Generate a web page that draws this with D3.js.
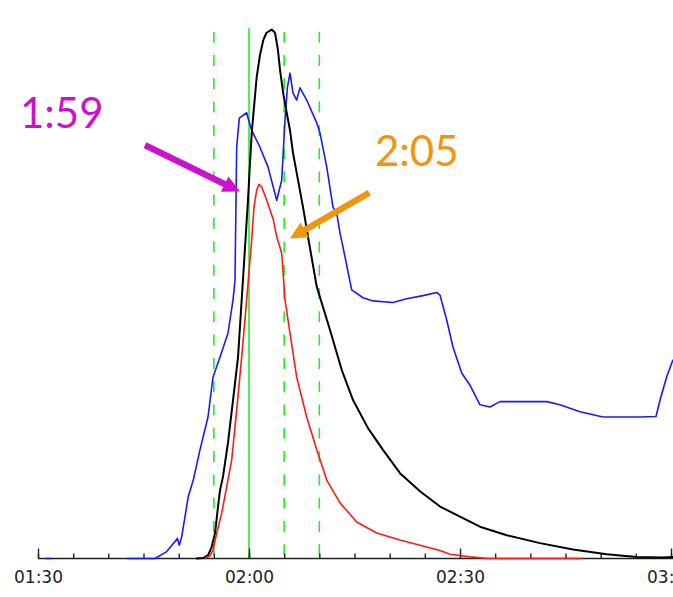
<!DOCTYPE html>
<html>
<head>
<meta charset="utf-8">
<script src="https://cdn.jsdelivr.net/npm/d3@7"></script>
<style>
  html, body { margin: 0; padding: 0; background: #ffffff; }
  svg { display: block; }
</style>
</head>
<body>
<svg id="chart" width="673" height="597"></svg>
<script>
// Flare light curves. Time is minutes after 00:00 UT, flux is in relative units.
const blackTime = [112.46, 113.50, 114.21, 114.70, 115.17, 115.59, 115.88, 116.30, 117.01, 117.73,
  118.44, 118.96, 119.50, 119.85, 120.14, 120.40, 121.09, 121.56, 122.03, 122.49, 123.23, 123.70,
  124.12, 124.41, 124.90, 125.36, 125.83, 126.26, 126.97, 127.68, 128.39, 129.63, 131.52, 133.18,
  134.79, 136.92, 139.05, 141.47, 144.31, 147.16, 150.00, 152.84, 156.64, 161.37, 166.07, 170.86,
  175.12, 178.86, 180.30];
const blackFlux = [0.0, 0.1, 0.7, 2.2, 4.8, 9.7, 12.9, 15.4, 21.8, 29.9,
  38.0, 48.8, 60.1, 67.5, 74.6, 80.5, 90.8, 95.0, 97.8, 99.2, 99.8, 99.2,
  95.9, 92.2, 87.5, 84.1, 80.8, 76.5, 71.4, 66.3, 60.7, 51.3, 43.1, 35.6,
  29.9, 24.6, 20.5, 16.1, 12.7, 9.8, 7.9, 6.0, 4.4, 2.9, 1.7, 0.8,
  0.3, 0.2, 0.3];

const redTime = [113.74, 114.45, 114.88, 115.41, 116.12, 116.83, 117.54, 118.25, 118.96, 119.67,
  120.38, 120.71, 121.09, 121.42, 121.81, 122.52, 123.46, 123.94, 124.65, 125.12, 125.83, 126.78,
  128.20, 129.63, 131.05, 132.94, 135.31, 138.16, 141.47, 147.16, 148.58, 151.42, 153.98, 167.35];
const redFlux = [0.0, 0.5, 1.6, 4.8, 8.6, 13.5, 18.6, 28.0, 38.0, 48.8,
  60.1, 66.3, 69.5, 70.6, 70.1, 67.6, 63.9, 60.7, 57.6, 48.8, 42.5, 34.2,
  26.7, 20.5, 14.8, 10.5, 6.9, 4.8, 3.5, 1.5, 0.8, 0.3, 0.0, 0.0];

// null marks the data gap between the two blue segments
const blueTime = [91.0, 92.0, 97.0, 102.65, 106.64, 108.30, 109.48, 109.81, 110.09, 110.43, 110.90,
  111.37, 112.08, 113.03, 114.17, 114.88, 115.88, 117.01, 117.73, 118.01, 118.08, 118.25, 118.62,
  119.67, 119.86, 120.38, 121.56, 122.70, 123.94, 124.41, 124.65, 125.12, 125.45, 125.83, 126.26,
  126.78, 127.25, 128.20, 129.63, 130.09, 131.05, 131.94, 132.47, 132.94, 133.36, 134.60, 136.21,
  137.63, 140.47, 142.42, 144.74, 146.69, 147.16, 148.11, 149.00, 150.24, 151.42, 152.84, 154.27,
  155.69, 157.54, 162.33, 164.22, 167.06, 170.33, 175.59, 177.87, 178.44, 179.39, 180.28];
const blueFlux = [0.0, 0.0, null, 0.0, 0.0, 1.3, 3.2, 3.8, 2.5, 4.1, 7.9,
  11.7, 14.8, 20.5, 26.7, 34.2, 38.0, 42.5, 48.8, 52.5, 60.1, 77.6, 83.1,
  84.1, 83.1, 80.8, 77.6, 73.9, 67.6, 70.1, 71.4, 82.7, 88.8, 91.6, 87.8,
  86.5, 88.8, 86.5, 82.2, 80.3, 73.9, 66.3, 65.2, 61.4, 58.8, 50.7, 49.2,
  48.6, 48.3, 49.0, 49.6, 50.2, 49.7, 45.0, 39.9, 35.0, 32.7, 29.0, 28.6,
  29.6, 29.6, 29.6, 29.0, 27.7, 26.7, 26.7, 26.8, 29.9, 34.3, 37.5];

// Reference times marked with vertical green lines
const markerTimes = ["01:55", "02:00", "02:05", "02:10"];
const markerDashed = [true, false, true, true];

const tickLabels = ["01:30", "02:00", "02:30", "03:00"];
const minorStep = 5; // minutes between small ticks

// Callouts: label, colour, text anchor (time, flux), arrow tail and tip (time, flux)
const calloutText = ["1:59", "2:05"];
const calloutColor = ["#cc11cc", "#f0960e"];
const calloutTextAt = [[87.44, 81.2], [137.91, 74.1]];
const calloutTail = [[105.21, 78.0], [137.10, 69.0]];
const calloutTip = [[118.72, 69.25], [125.83, 60.4]];

const day = Date.UTC(2011, 1, 15);
const toDate = m => new Date(day + m * 60000);
const hhmm = s => { const [h, m] = s.split(":").map(Number); return h * 60 + m; };

const svg = d3.select("#chart");
const W = 673;

const x = d3.scaleUtc().domain([toDate(90), toDate(180)]).range([38, 671]);
const y = d3.scaleLinear().domain([0, 100]).range([558.5, 28.5]);

// vertical reference lines
markerTimes.forEach((t, i) => {
  const px = x(toDate(hhmm(t)));
  svg.append("line")
    .attr("x1", px).attr("x2", px)
    .attr("y1", markerDashed[i] ? 31.7 : 28).attr("y2", y(0))
    .attr("stroke", "#22ee22")
    .attr("stroke-width", 1.6)
    .attr("stroke-dasharray", markerDashed[i] ? "11,12.3" : null);
});

// time axis: small ticks every 5 minutes, longer ones with labels every 30
const axisG = svg.append("g").attr("transform", `translate(0,${y(0)})`);
const minorTicks = d3.range(90, 181, minorStep).map(toDate);
const majorTicks = tickLabels.map(s => toDate(hhmm(s)));
axisG.call(d3.axisBottom(x).tickValues(minorTicks).tickSizeInner(-5).tickSizeOuter(0).tickFormat(""));
axisG.call(g => g.select(".domain").remove());
const majorG = svg.append("g").attr("transform", `translate(0,${y(0)})`);
majorG.call(d3.axisBottom(x).tickValues(majorTicks).tickSizeInner(-10).tickSizeOuter(0)
  .tickPadding(12).tickFormat((d, i) => tickLabels[i]));
majorG.select(".domain").remove();
svg.selectAll(".tick line").attr("stroke", "#222").attr("stroke-width", 1.4);
majorG.selectAll(".tick text")
  .attr("font-family", "DejaVu Sans, sans-serif")
  .attr("font-size", 17)
  .attr("fill", "#222");
svg.append("line")
  .attr("x1", 38).attr("x2", W).attr("y1", y(0)).attr("y2", y(0))
  .attr("stroke", "#222").attr("stroke-width", 1.5);

// light curves
function series(times, flux) {
  return times.map((t, i) => ({ t: toDate(t), v: flux[i] }));
}
const line = d3.line()
  .defined(d => d.v !== null)
  .x(d => x(d.t))
  .y(d => y(d.v));

svg.append("path").datum(series(blueTime, blueFlux))
  .attr("d", line).attr("fill", "none")
  .attr("stroke", "#1a1aff").attr("stroke-width", 1.6).attr("stroke-linejoin", "round");
svg.append("path").datum(series(blackTime, blackFlux))
  .attr("d", line).attr("fill", "none")
  .attr("stroke", "#000000").attr("stroke-width", 2).attr("stroke-linejoin", "round");
svg.append("path").datum(series(redTime, redFlux))
  .attr("d", line).attr("fill", "none")
  .attr("stroke", "#ff1a1a").attr("stroke-width", 1.6).attr("stroke-linejoin", "round");

// callout arrows and times
calloutText.forEach((label, i) => {
  const col = calloutColor[i];
  const x0 = x(toDate(calloutTail[i][0])), y0 = y(calloutTail[i][1]);
  const x1 = x(toDate(calloutTip[i][0])), y1 = y(calloutTip[i][1]);
  const dx = x1 - x0, dy = y1 - y0, len = Math.hypot(dx, dy);
  const ux = dx / len, uy = dy / len, nx = -uy, ny = ux;
  const headL = 17, headW = 8.5, shaft = 3.2;
  const bx = x1 - ux * headL, by = y1 - uy * headL;
  const pts = [
    [x0 + nx * shaft, y0 + ny * shaft],
    [bx + nx * shaft, by + ny * shaft],
    [bx + nx * headW, by + ny * headW],
    [x1, y1],
    [bx - nx * headW, by - ny * headW],
    [bx - nx * shaft, by - ny * shaft],
    [x0 - nx * shaft, y0 - ny * shaft]
  ];
  svg.append("polygon")
    .attr("points", pts.map(p => p.join(",")).join(" "))
    .attr("fill", col);
  svg.append("text")
    .attr("x", x(toDate(calloutTextAt[i][0])))
    .attr("y", y(calloutTextAt[i][1]))
    .attr("font-family", "Lato, 'Open Sans', sans-serif")
    .attr("font-size", 42)
    .attr("fill", col)
    .text(label);
});
</script>
</body>
</html>
